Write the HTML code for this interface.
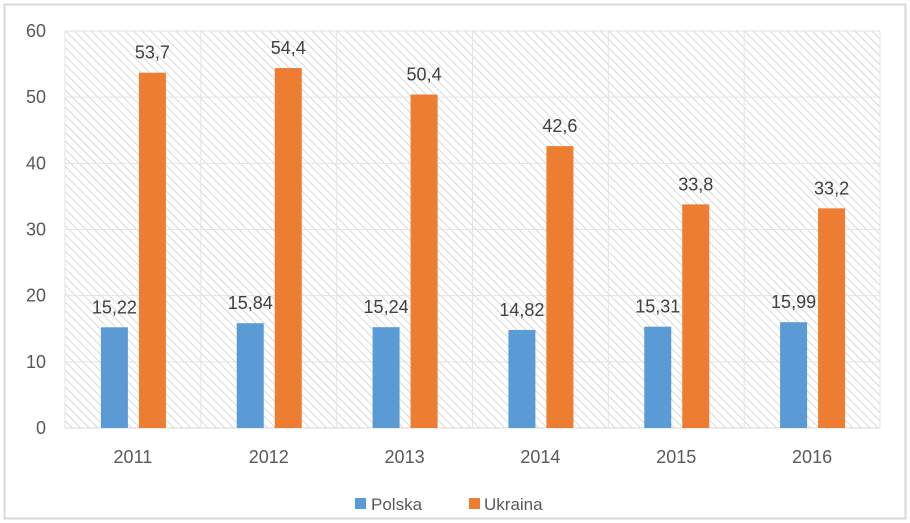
<!DOCTYPE html>
<html><head><meta charset="utf-8"><style>
body{margin:0;background:#fff;}
svg{display:block;font-family:"Liberation Sans",sans-serif;}
</style></head><body>
<svg id="c" width="910" height="523">
<defs>
<pattern id="hatch" width="6" height="6" patternUnits="userSpaceOnUse" patternTransform="rotate(-45)">
<rect width="6" height="6" fill="#fff"/>
<line x1="0" y1="0" x2="0" y2="6" stroke="#d4d4d4" stroke-width="1.8"/>
</pattern>
</defs>
<rect x="4.5" y="4.5" width="901" height="514" fill="#fff" stroke="#d9d9d9" stroke-width="2"/>
<rect x="65" y="31" width="815" height="397" fill="url(#hatch)"/>
<g id="grid"></g><g id="bars"></g><g id="labels"></g>
<g>
<rect x="355" y="498" width="11" height="11" fill="#5b9bd5"/>
<text x="371" y="510" font-size="17" fill="#595959">Polska</text>
<rect x="469" y="498" width="11" height="11" fill="#ed7d31"/>
<text x="484" y="510" font-size="17" fill="#595959">Ukraina</text>
</g>
</svg>
<script>
const categories=["2011","2012","2013","2014","2015","2016"];
const polska=[15.22,15.84,15.24,14.82,15.31,15.99];
const ukraina=[53.7,54.4,50.4,42.6,33.8,33.2];
const yTicks=[0,10,20,30,40,50,60];
const NS="http://www.w3.org/2000/svg";
const X0=65,X1=880,YT=31,YB=428,YMAX=60;
const bw=(X1-X0)/categories.length;
const y=v=>YB-(v/YMAX)*(YB-YT);
const xc=i=>X0+bw*(i+0.5);
const fmt=v=>String(v).replace('.',',');
function mk(tag,at,parent){const e=document.createElementNS(NS,tag);for(const k in at)e.setAttribute(k,at[k]);document.getElementById(parent).appendChild(e);return e;}
for(let i=0;i<=categories.length;i++){
 const v=mk('line',{x1:X0+bw*i,x2:X0+bw*i,y1:YT,y2:YB,stroke:'#e3e3e3','stroke-width':1},'grid');
 
 
}
yTicks.forEach(t=>{
 const l=mk('line',{x1:X0,x2:X1,y1:y(t),y2:y(t),stroke:t===0?'#d9d9d9':'#e3e3e3','stroke-width':1},'grid');
 
 
 const tx=mk('text',{x:46,y:y(t)+6,'font-size':18,fill:'#595959','text-anchor':'end'},'labels');
 tx.textContent=t;
 
 
});
categories.forEach((c,i)=>{
 const cx=xc(i);
 const b1=mk('rect',{x:cx-32,y:y(polska[i]),width:27,height:YB-y(polska[i]),fill:'#5b9bd5'},'bars');
 
 
 const b2=mk('rect',{x:cx+6,y:y(ukraina[i]),width:27,height:YB-y(ukraina[i]),fill:'#ed7d31'},'bars');
 
 
 const t1=mk('text',{x:cx-18.5,y:y(polska[i])-14,'font-size':18,fill:'#404040','text-anchor':'middle'},'labels');
 t1.textContent=fmt(polska[i]);
 
 
 const t2=mk('text',{x:cx+19.5,y:y(ukraina[i])-14,'font-size':18,fill:'#404040','text-anchor':'middle'},'labels');
 t2.textContent=fmt(ukraina[i]);
 
 
 const xl=mk('text',{x:cx,y:463,'font-size':18,fill:'#595959','text-anchor':'middle'},'labels');
 xl.textContent=c;
 
 
});
</script>
</body></html>
